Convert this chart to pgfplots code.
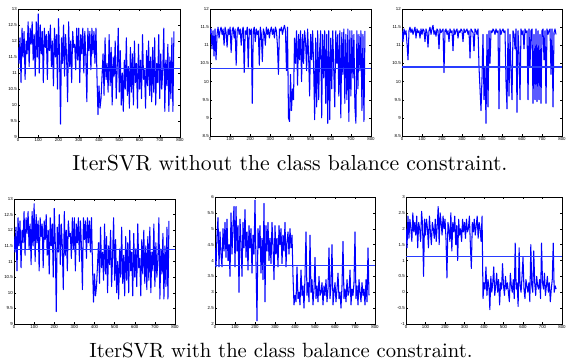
\documentclass[border=0pt]{standalone}
\usepackage{pgfplots}
\pgfplotsset{compat=1.18}
\usepackage{pgfplotstable}
\usepackage{fontspec}
\setsansfont{Liberation Sans}

\pgfplotstableread{
y
11.8
11.3
12.1
10.7
12.4
11.5
12.3
10.8
12.0
11.6
12.6
11.2
12.4
11.9
12.6
11.4
12.2
10.9
12.6
11.5
12.85
11.0
12.5
11.6
12.3
10.7
12.4
11.8
12.2
10.8
12.3
11.7
12.5
11.2
12.0
10.6
12.4
11.5
12.2
10.5
12.7
11.6
9.4
12.1
11.3
12.5
10.9
12.2
11.5
10.1
12.6
11.2
12.0
10.7
12.3
11.8
11.9
11.1
12.4
11.4
12.4
10.7
12.2
11.6
12.4
11.0
12.3
11.5
10.1
12.4
11.7
12.3
11.1
12.4
11.6
12.3
11.3
12.4
10.9
9.7
10.6
9.9
10.2
10.9
11.6
10.3
12.1
10.8
11.3
10.4
12.2
10.6
11.8
10.0
11.5
10.9
12.0
10.2
11.2
12.4
10.4
11.7
10.0
11.0
9.8
11.4
10.5
12.1
10.3
11.2
9.9
11.8
10.4
11.6
10.0
12.0
10.7
11.3
9.9
11.9
10.5
11.4
10.2
12.2
10.8
11.1
9.9
11.7
10.6
12.0
10.3
11.5
10.1
11.8
10.4
12.1
10.0
11.3
10.7
12.2
10.2
11.6
10.5
11.1
12.4
9.8
11.4
10.6
11.9
9.8
11.5
10.2
12.1
9.8
12.3
}\dataA

\pgfplotstableread{
y
11.3
11.45
10.9
11.4
10.7
11.45
10.6
11.3
11.5
11.2
11.4
11.5
11.3
11.45
11.0
11.5
11.35
10.95
11.45
11.3
11.5
10.8
11.4
11.5
11.2
11.45
10.45
11.4
11.5
11.3
11.45
11.0
11.4
11.5
10.25
11.4
11.3
11.5
10.4
11.45
11.3
11.45
9.4
11.4
11.5
11.1
11.45
11.3
11.4
10.45
11.5
11.3
10.55
11.45
11.35
11.0
11.5
11.3
11.45
11.2
11.4
11.5
11.3
11.45
11.2
11.5
11.4
11.0
10.2
11.45
11.4
11.5
11.3
11.45
11.55
11.4
10.3
11.5
9.0
8.9
10.2
9.2
9.8
9.5
11.2
10.5
11.4
9.9
11.3
10.6
11.4
10.0
11.3
10.5
11.4
11.1
10.3
11.45
10.7
9.6
11.3
10.6
11.4
10.4
8.95
11.2
9.3
11.4
9.5
10.9
11.4
9.0
11.3
10.1
11.4
9.4
11.3
8.85
11.4
8.95
11.2
9.8
11.4
10.3
9.3
11.4
10.5
11.3
9.6
11.4
9.0
11.35
10.2
11.45
9.4
11.3
9.5
11.45
8.9
11.4
9.6
11.4
10.1
11.3
9.3
8.85
11.4
9.8
11.3
10.3
11.4
9.2
11.3
8.9
11.4
}\dataB

\pgfplotstableread{
y
11.4
11.1
11.45
11.3
11.4
11.05
10.6
11.4
11.5
11.35
11.45
11.3
11.4
11.5
11.2
11.45
11.35
11.4
11.2
11.45
11.3
11.45
11.4
11.1
11.45
11.35
10.95
11.4
11.5
11.3
11.45
11.55
11.3
11.4
11.25
11.45
11.4
10.9
11.45
11.35
11.4
11.45
10.25
11.4
11.45
11.3
11.4
11.1
11.45
11.35
11.4
10.85
11.45
11.3
11.4
11.45
11.2
11.4
11.35
11.45
11.4
11.1
11.45
11.35
11.4
11.45
11.3
11.4
10.65
11.45
11.4
11.35
10.85
11.45
11.4
11.3
11.45
10.4
9.8
9.2
10.1
11.3
9.5
10.4
8.85
11.3
9.3
11.4
10.5
11.4
11.35
11.45
11.4
11.3
11.45
11.35
11.4
9.25
11.45
11.3
11.4
11.45
11.35
11.4
10.0
9.25
11.45
9.6
11.3
10.3
9.5
11.4
11.3
10.9
11.45
9.15
11.4
10.8
9.5
11.45
11.3
11.4
10.9
11.45
11.35
11.4
9.5
11.45
10.4
11.4
11.45
9.4
11.3
9.5
11.45
9.45
11.4
9.5
11.3
9.4
11.4
11.45
10.6
11.4
9.4
11.45
11.3
11.4
11.45
10.2
11.45
9.3
11.35
11.45
11.3
}\dataC

\pgfplotstableread{
y
4.4
3.8
4.8
5.35
3.8
4.9
4.2
3.8
5.0
4.3
5.2
4.1
5.3
4.0
4.5
3.5
5.5
4.2
5.1
5.7
3.8
5.7
4.3
5.1
3.0
5.3
4.6
3.5
5.2
4.4
5.6
4.1
4.9
3.7
5.1
4.4
5.0
3.6
4.8
4.2
5.9
3.9
2.1
5.0
4.4
5.1
3.6
4.7
3.4
5.8
2.7
5.1
4.3
5.2
4.0
4.7
3.9
5.2
4.5
3.4
5.1
4.2
4.7
3.8
5.1
4.5
5.0
3.9
4.8
4.3
5.2
3.8
4.6
4.9
4.2
5.0
4.4
4.8
3.5
2.6
2.9
2.7
3.8
2.8
3.0
2.6
3.7
2.9
3.2
2.5
3.5
4.9
2.9
3.3
2.7
4.8
3.0
3.4
2.6
3.1
4.1
2.8
3.2
2.7
3.5
2.9
3.0
3.3
2.6
3.2
2.9
3.4
2.7
3.1
4.4
2.8
3.2
4.5
2.6
3.0
3.3
2.7
3.1
3.6
2.8
3.0
2.5
3.2
4.6
2.8
3.1
2.7
3.4
2.9
3.0
3.7
2.6
3.1
2.9
3.3
4.9
2.8
3.2
2.6
3.4
3.0
2.7
3.3
2.9
3.1
2.6
3.4
2.7
4.4
2.9
}\dataD

\pgfplotstableread{
y
2.0
1.4
2.4
1.7
2.3
2.0
1.6
2.5
1.9
2.2
1.8
2.4
1.4
2.2
2.0
1.6
2.55
2.1
0.5
2.3
1.8
2.3
2.0
1.4
2.4
1.9
1.5
2.2
2.0
1.7
2.3
1.6
2.1
2.7
1.5
2.5
2.2
1.8
2.4
2.0
2.3
1.7
0.45
2.2
2.0
1.6
2.5
1.3
2.2
1.9
2.4
1.5
2.1
1.0
2.3
1.8
2.0
1.6
2.3
1.9
2.2
1.7
2.3
1.9
2.0
2.4
1.5
0.75
2.2
1.9
2.3
1.8
2.1
2.4
1.7
2.2
2.0
1.6
2.4
-0.2
0.3
0.1
0.8
-0.1
0.4
0.2
-0.55
0.5
0.0
0.3
0.8
-0.1
0.2
0.6
0.0
0.4
-0.4
0.3
0.1
0.9
0.2
-0.1
0.5
0.1
0.3
0.0
-0.3
0.6
0.2
0.0
0.4
-0.2
1.55
0.1
0.3
-0.45
1.4
0.2
0.0
0.5
1.1
0.1
-0.2
0.4
0.2
0.0
0.3
-0.3
1.5
0.2
0.0
1.3
0.3
-0.1
0.5
0.2
0.1
0.4
-0.2
1.55
0.3
0.1
0.6
-0.1
0.2
0.5
0.0
0.3
-0.3
0.1
0.4
1.55
0.0
0.2
0.1
}\dataE

\pgfplotsset{
  panel/.style={
    scale only axis,
    anchor=south west,
    xmin=0, xmax=800,
    xtick={0,100,...,800},
    tick align=inside,
    major tick length=2pt,
    axis line style={line width=0.5pt},
    tick style={line width=0.4pt, black},
    ticklabel style={font=\sffamily\fontsize{4.4}{4.4}\selectfont, inner sep=1pt},
    /pgf/number format/assume math mode=true,
    /pgf/number format/fixed,
    clip=true,
  },
  ser/.style={color={rgb,255:red,0;green,0;blue,255}, line width=1.05pt, line join=round},
  avg/.style={color={rgb,255:red,40;green,60;blue,255}, line width=1.2pt},
}

\begin{document}
\begin{tikzpicture}[x=1bp,y=1bp]
\useasboundingbox (0,0) rectangle (568,360);

\begin{axis}[panel, at={(18bp,223bp)}, width=162bp, height=128bp,
  ymin=9, ymax=13, ytick={9,9.5,...,13}]
\addplot[ser] table[x expr=\coordindex*5, y=y] {\dataA};
\addplot[avg] coordinates {(0,11.13) (800,11.13)};
\end{axis}

\begin{axis}[panel, at={(210bp,224bp)}, width=161bp, height=127bp,
  ymin=8.5, ymax=12, ytick={8.5,9,...,12}]
\addplot[ser] table[x expr=\coordindex*5, y=y] {\dataB};
\addplot[avg] coordinates {(0,10.35) (800,10.35)};
\end{axis}

\begin{axis}[panel, at={(402bp,224bp)}, width=160bp, height=127bp,
  ymin=8.5, ymax=12, ytick={8.5,9,...,12}]
\addplot[ser] table[x expr=\coordindex*5, y=y] {\dataC};
\addplot[avg] coordinates {(0,10.4) (800,10.4)};
\end{axis}

\node[anchor=base, inner sep=0pt] at (290,190) {\resizebox{435bp}{!}{IterSVR without the class balance constraint.}};

\begin{axis}[panel, at={(14bp,36bp)}, width=161bp, height=125bp,
  ymin=9, ymax=13, ytick={9,9.5,...,13}]
\addplot[ser] table[x expr=\coordindex*5, y=y] {\dataA};
\addplot[avg] coordinates {(0,11.38) (800,11.38)};
\end{axis}

\begin{axis}[panel, at={(215bp,36bp)}, width=160bp, height=127bp,
  ymin=2, ymax=6, ytick={2,2.5,...,6}]
\addplot[ser] table[x expr=\coordindex*5, y=y] {\dataD};
\addplot[avg] coordinates {(0,3.85) (800,3.85)};
\end{axis}

\begin{axis}[panel, at={(406bp,36bp)}, width=156bp, height=127bp,
  ymin=-1, ymax=3, ytick={-1,-0.5,...,3}]
\addplot[ser] table[x expr=\coordindex*5, y=y] {\dataE};
\addplot[avg] coordinates {(0,1.12) (800,1.12)};
\end{axis}

\node[anchor=base, inner sep=0pt] at (281,3) {\resizebox{383bp}{!}{IterSVR with the class balance constraint.}};
\end{tikzpicture}
\end{document}
